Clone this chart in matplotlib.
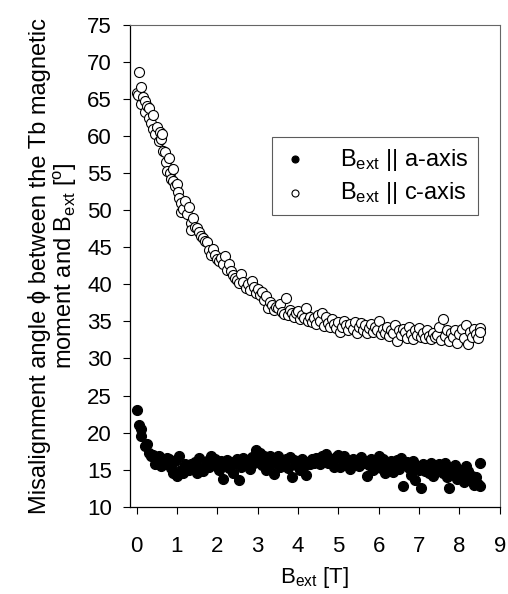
import matplotlib
matplotlib.use("Agg")
import matplotlib.pyplot as plt

plt.rcParams['font.family'] = ['Liberation Sans', 'DejaVu Sans']
plt.rcParams['mathtext.fontset'] = 'custom'
plt.rcParams['mathtext.rm'] = 'Liberation Sans'
plt.rcParams['mathtext.it'] = 'Liberation Sans'

# B_ext || c-axis
c_x = [0.0,0.03,0.07,0.1,0.12,0.15,0.2,0.22,0.25,0.3,0.3,0.35,0.4,0.42,0.45,0.5,0.55,0.57,0.6,0.62,
       0.65,0.7,0.72,0.75,0.8,0.82,0.85,0.9,0.9,0.95,1.0,1.02,1.05,1.1,1.1,1.15,1.2,1.25,1.3,1.35,
       1.35,1.4,1.45,1.5,1.55,1.6,1.65,1.7,1.75,1.8,1.85,1.9,1.95,2.0,2.05,2.1,2.15,2.2,2.25,2.3,
       2.35,2.4,2.45,2.5,2.55,2.6,2.65,2.7,2.75,2.8,2.85,2.9,2.95,3.0,3.05,3.1,3.15,3.2,3.25,3.3,
       3.35,3.4,3.45,3.5,3.55,3.6,3.65,3.7,3.75,3.8,3.85,3.9,3.95,4.0,4.05,4.1,4.15,4.2,4.25,4.3,
       4.35,4.4,4.45,4.5,4.55,4.6,4.65,4.7,4.75,4.8,4.85,4.9,4.95,5.0,5.05,5.1,5.15,5.2,5.25,5.3,
       5.35,5.4,5.45,5.5,5.55,5.6,5.65,5.7,5.75,5.8,5.85,5.9,5.95,6.0,6.05,6.1,6.15,6.2,6.25,6.3,
       6.35,6.4,6.45,6.5,6.55,6.6,6.65,6.7,6.75,6.8,6.85,6.9,6.95,7.0,7.05,7.1,7.15,7.2,7.25,7.3,
       7.35,7.4,7.45,7.5,7.55,7.6,7.65,7.7,7.75,7.8,7.85,7.9,7.95,8.0,8.05,8.1,8.15,8.2,8.25,8.3,
       8.35,8.4,8.45,8.5,8.5]
c_y = [65.8,65.5,68.7,66.6,64.3,65.3,64.8,63.2,64.0,62.5,63.8,61.8,62.9,61.0,60.3,61.2,59.4,60.6,59.6,60.3,
       58.0,57.8,56.5,55.3,57.0,55.0,54.2,55.6,54.0,53.3,53.5,52.5,51.6,51.0,49.8,50.2,51.3,49.5,50.4,48.3,
       47.3,49.0,47.8,47.6,47.0,46.5,46.2,45.8,45.7,44.6,43.9,44.8,44.0,43.4,43.2,43.5,42.8,43.8,42.0,42.7,
       41.8,41.3,40.9,40.6,40.2,41.4,40.3,39.5,40.0,39.2,40.5,39.6,38.8,39.4,38.5,38.9,37.9,38.4,36.8,37.6,
       37.2,36.5,37.0,36.8,37.4,36.3,36.0,38.2,35.8,36.6,36.2,35.6,36.1,36.4,35.3,35.8,35.4,36.8,35.1,35.6,
       34.9,35.5,34.7,35.9,35.0,36.2,34.4,35.6,34.8,34.2,35.3,34.6,34.1,34.9,33.6,34.3,35.1,34.5,33.8,34.7,
       34.0,34.9,33.5,34.3,34.8,33.9,34.5,33.4,34.1,34.6,33.6,34.2,33.8,35.0,33.3,34.0,33.5,34.3,33.0,33.9,
       33.4,34.5,32.3,33.8,33.2,34.0,33.6,32.8,34.2,33.3,32.6,33.9,33.1,34.1,32.9,33.5,32.7,33.8,33.0,32.6,
       33.4,32.9,33.2,34.2,32.5,35.3,33.0,33.8,32.4,33.5,32.9,33.8,32.1,33.3,34.0,32.8,34.5,32.0,33.6,32.9,
       34.0,33.3,32.7,34.1,33.6]

# B_ext || a-axis
a_x = [0.0,0.05,0.1,0.12,0.2,0.25,0.3,0.35,0.4,0.45,0.5,0.55,0.6,0.65,0.7,0.75,0.8,0.85,0.9,0.95,
       1.0,1.05,1.1,1.15,1.2,1.25,1.3,1.35,1.4,1.45,1.5,1.55,1.6,1.65,1.7,1.75,1.8,1.85,1.9,1.95,
       2.0,2.05,2.1,2.15,2.2,2.25,2.3,2.35,2.4,2.45,2.5,2.55,2.6,2.65,2.7,2.75,2.8,2.85,2.9,2.95,
       3.0,3.05,3.1,3.15,3.2,3.25,3.3,3.35,3.4,3.45,3.5,3.55,3.6,3.65,3.7,3.75,3.8,3.85,3.9,3.95,
       4.0,4.05,4.1,4.15,4.2,4.25,4.3,4.35,4.4,4.45,4.5,4.55,4.6,4.65,4.7,4.75,4.8,4.85,4.9,4.95,
       5.0,5.05,5.1,5.15,5.2,5.25,5.3,5.35,5.4,5.45,5.5,5.55,5.6,5.65,5.7,5.75,5.8,5.85,5.9,5.95,
       6.0,6.05,6.1,6.15,6.2,6.25,6.3,6.35,6.4,6.45,6.5,6.55,6.6,6.65,6.7,6.75,6.8,6.85,6.9,6.95,
       7.0,7.05,7.1,7.15,7.2,7.25,7.3,7.35,7.4,7.45,7.5,7.55,7.6,7.65,7.7,7.75,7.8,7.85,7.9,7.95,
       8.0,8.05,8.1,8.15,8.2,8.25,8.3,8.35,8.4,8.45,8.5,8.5]
a_y = [23.0,21.0,20.5,19.6,18.2,18.4,17.2,16.9,17.0,15.7,16.5,16.9,15.5,16.2,15.8,16.6,16.4,15.2,14.5,16.1,
       14.2,16.8,15.0,14.6,15.8,15.2,14.9,15.7,15.4,16.0,14.5,16.6,15.1,14.8,15.5,16.2,15.3,16.9,15.9,16.4,
       15.6,14.9,16.2,13.8,15.7,16.3,15.2,16.0,14.6,15.9,16.5,13.6,15.4,16.6,15.8,16.3,15.1,16.7,15.9,17.7,
       16.4,17.2,15.6,16.8,15.0,16.3,16.9,15.7,14.4,16.5,16.8,15.4,16.2,15.8,16.5,15.2,16.7,14.0,16.3,15.6,
       16.1,15.0,16.5,15.5,14.3,16.0,15.7,16.4,15.9,16.6,16.2,15.8,16.9,16.3,17.1,15.9,16.5,16.0,15.4,16.7,
       17.0,15.3,16.4,16.8,15.6,16.2,15.1,16.5,15.8,16.3,15.5,16.7,15.9,16.2,14.2,15.6,16.4,15.0,16.1,15.4,
       16.8,15.2,16.5,14.6,15.8,15.3,16.2,14.7,15.9,16.3,15.1,16.6,12.8,15.7,16.0,15.2,14.3,16.1,13.6,15.5,
       15.0,12.5,15.8,14.8,15.3,14.6,15.9,14.2,15.5,14.9,15.8,15.2,14.5,15.9,14.0,12.5,15.1,14.4,15.6,13.8,
       15.0,14.6,13.3,15.5,14.8,13.6,14.2,12.9,14.0,13.1,15.9,12.8]

x_ticks = [0, 1, 2, 3, 4, 5, 6, 7, 8, 9]
y_ticks = [10, 15, 20, 25, 30, 35, 40, 45, 50, 55, 60, 65, 70, 75]

fig = plt.figure(figsize=(5.08, 5.94), dpi=100)
ax = fig.add_axes([0.256, 0.147, 0.728, 0.811])

ax.scatter(a_x, a_y, s=52, facecolor='black', edgecolor='black', linewidths=0.8,
           label='B$_{\\rm ext}$ || a-axis', zorder=3)
ax.scatter(c_x, c_y, s=52, facecolor='white', edgecolor='black', linewidths=0.8,
           label='B$_{\\rm ext}$ || c-axis', zorder=3)

ax.set_xlim(-0.16, 9)
ax.set_ylim(10, 75)
ax.set_xticks(x_ticks)
ax.set_yticks(y_ticks)
ax.tick_params(direction='out', length=5, width=0.8, labelsize=16, top=False, right=False)
ax.tick_params(axis='x', pad=16)
ax.tick_params(axis='y', pad=8)

for side in ['left', 'bottom']:
    ax.spines[side].set_linewidth(0.9)
for side in ['top', 'right']:
    ax.spines[side].set_linewidth(0.8)
    ax.spines[side].set_color('#666666')

ax.set_xlabel('B$_{\\rm ext}$ [T]', fontsize=16, labelpad=6)
ax.set_ylabel('Misalignment angle \u03d5 between the Tb magnetic\nmoment and B$_{\\rm ext}$ [$^{\\rm o}$]',
              fontsize=17, labelpad=6, linespacing=1.05)

leg = ax.legend(loc='upper right', bbox_to_anchor=(0.94, 0.767), fontsize=17,
                frameon=True, fancybox=False, edgecolor='#333333', markerscale=0.7,
                handletextpad=1.3, borderpad=0.4, labelspacing=0.3, handlelength=1.2,
                borderaxespad=0)
leg.get_frame().set_linewidth(0.8)

fig.savefig('out.png', dpi=100)
